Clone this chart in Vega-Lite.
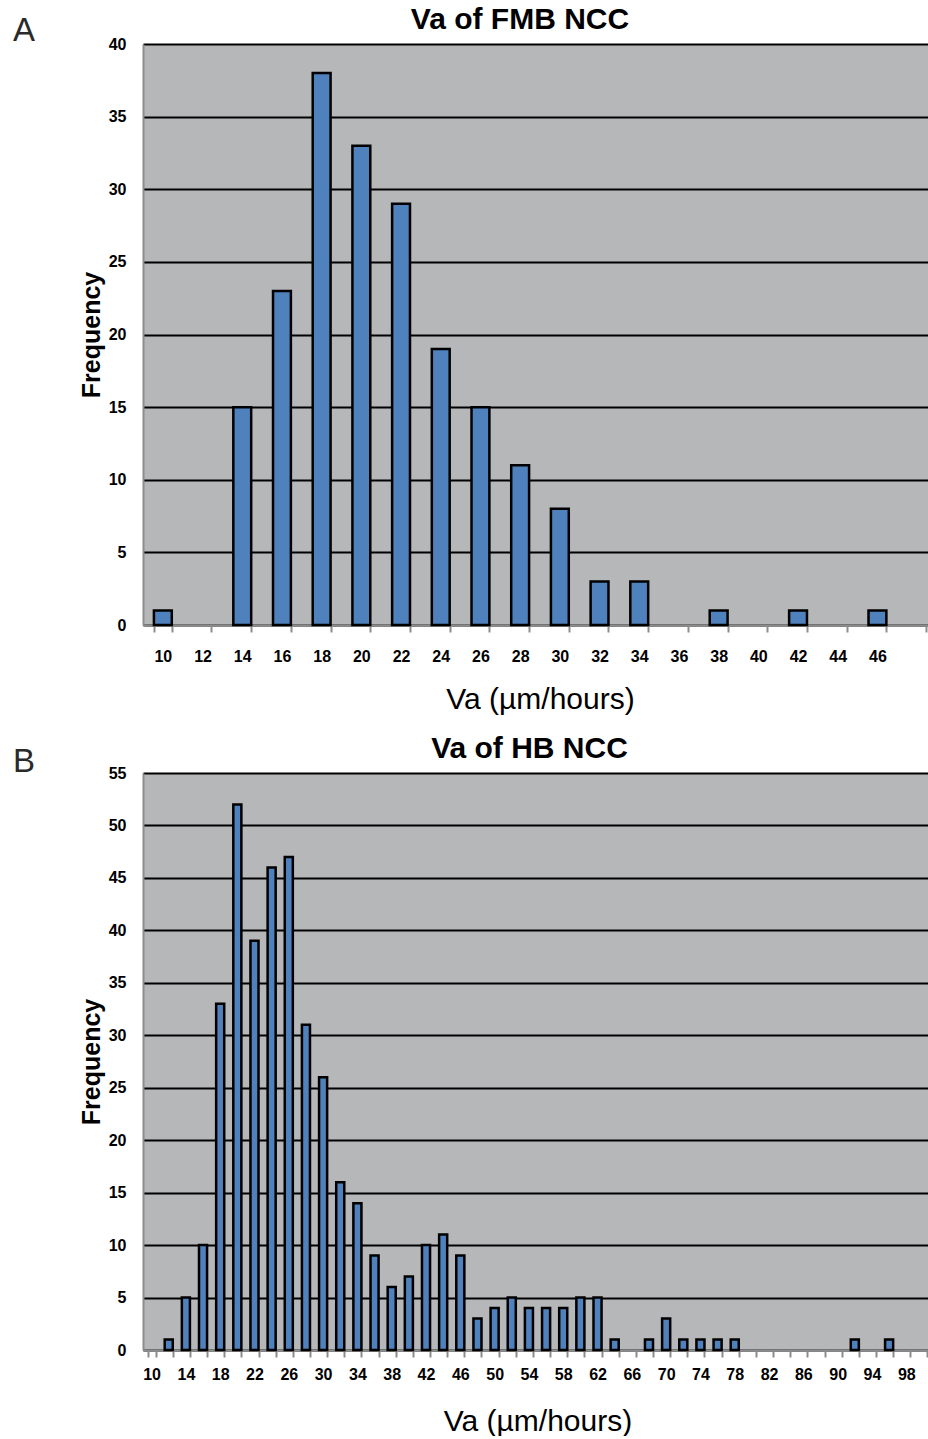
{
  "$schema": "https://vega.github.io/schema/vega-lite/v6.json",
  "background": "white",
  "padding": {"left": 13, "top": 5, "right": 0, "bottom": 0},
  "spacing": 20,
  "config": {
    "font": "Liberation Sans",
    "view": {"stroke": null, "fill": "#b6b7b9"},
    "axis": {"labelFont": "Liberation Sans", "labelFontSize": 16, "labelFontWeight": "bold", "labelColor": "black", "titleFont": "Liberation Sans", "titleColor": "black", "domainColor": "#8c8c8c", "domainWidth": 2},
    "axisX": {"tickBand": "extent", "tickColor": "#8c8c8c", "tickSize": 7, "tickWidth": 2, "labelAngle": 0, "titleFontSize": 30, "titleFontWeight": "normal", "grid": false},
    "axisY": {"grid": true, "gridColor": "black", "gridWidth": 2, "ticks": false, "tickSize": 0, "labelPadding": 17, "titleFontSize": 25, "titleFontWeight": "bold", "titlePadding": 4},
    "title": {"font": "Liberation Sans", "color": "black"}
  },
  "datasets": {
    "fmb": [
      {"va": 10, "frequency": 1}, {"va": 14, "frequency": 15}, {"va": 16, "frequency": 23}, {"va": 18, "frequency": 38},
      {"va": 20, "frequency": 33}, {"va": 22, "frequency": 29}, {"va": 24, "frequency": 19}, {"va": 26, "frequency": 15},
      {"va": 28, "frequency": 11}, {"va": 30, "frequency": 8}, {"va": 32, "frequency": 3}, {"va": 34, "frequency": 3},
      {"va": 38, "frequency": 1}, {"va": 42, "frequency": 1}, {"va": 46, "frequency": 1}
    ],
    "hb": [
      {"va": 12, "frequency": 1}, {"va": 14, "frequency": 5}, {"va": 16, "frequency": 10}, {"va": 18, "frequency": 33},
      {"va": 20, "frequency": 52}, {"va": 22, "frequency": 39}, {"va": 24, "frequency": 46}, {"va": 26, "frequency": 47},
      {"va": 28, "frequency": 31}, {"va": 30, "frequency": 26}, {"va": 32, "frequency": 16}, {"va": 34, "frequency": 14},
      {"va": 36, "frequency": 9}, {"va": 38, "frequency": 6}, {"va": 40, "frequency": 7}, {"va": 42, "frequency": 10},
      {"va": 44, "frequency": 11}, {"va": 46, "frequency": 9}, {"va": 48, "frequency": 3}, {"va": 50, "frequency": 4},
      {"va": 52, "frequency": 5}, {"va": 54, "frequency": 4}, {"va": 56, "frequency": 4}, {"va": 58, "frequency": 4},
      {"va": 60, "frequency": 5}, {"va": 62, "frequency": 5}, {"va": 64, "frequency": 1}, {"va": 68, "frequency": 1},
      {"va": 70, "frequency": 3}, {"va": 72, "frequency": 1}, {"va": 74, "frequency": 1}, {"va": 76, "frequency": 1},
      {"va": 78, "frequency": 1}, {"va": 92, "frequency": 1}, {"va": 96, "frequency": 1}
    ],
    "none": []
  },
  "vconcat": [
    {
      "spacing": 43,
      "hconcat": [
        {
          "width": 1, "height": 1,
          "view": {"fill": null, "stroke": null},
          "title": {"text": "A", "anchor": "start", "frame": "group", "fontSize": 33, "fontWeight": "normal", "color": "#2a2a2a", "offset": -30, "baseline": "alphabetic"},
          "data": {"name": "none"},
          "mark": {"type": "point", "opacity": 0},
          "encoding": {}
        },
        {
          "width": 794,
          "height": 581,
          "title": {"text": "Va of FMB NCC", "fontSize": 30, "fontWeight": "bold", "anchor": "middle", "frame": "group", "dx": -20, "offset": -23, "baseline": "alphabetic"},
          "data": {"name": "fmb"},
          "mark": {"type": "bar", "fill": "#4f81bd", "stroke": "black", "strokeWidth": 2.5},
          "encoding": {
            "x": {
              "field": "va", "type": "ordinal",
              "scale": {"domain": [10, 12, 14, 16, 18, 20, 22, 24, 26, 28, 30, 32, 34, 36, 38, 40, 42, 44, 46, 48], "paddingInner": 0.55, "paddingOuter": 0.275},
              "axis": {"title": "Va (µm/hours)", "labelPadding": 16, "titlePadding": 20, "labelExpr": "datum.value == 48 ? '' : datum.label"}
            },
            "y": {
              "field": "frequency", "type": "quantitative",
              "scale": {"domain": [0, 40], "nice": false},
              "axis": {"title": "Frequency", "values": [0, 5, 10, 15, 20, 25, 30, 35, 40]}
            }
          }
        }
      ]
    },
    {
      "spacing": 43,
      "hconcat": [
        {
          "width": 1, "height": 1,
          "view": {"fill": null, "stroke": null},
          "title": {"text": "B", "anchor": "start", "frame": "group", "fontSize": 33, "fontWeight": "normal", "color": "#2a2a2a", "offset": -32, "baseline": "alphabetic"},
          "data": {"name": "none"},
          "mark": {"type": "point", "opacity": 0},
          "encoding": {}
        },
        {
          "width": 789,
          "height": 577,
          "title": {"text": "Va of HB NCC", "fontSize": 30, "fontWeight": "bold", "anchor": "middle", "frame": "group", "dx": -8, "offset": -23, "baseline": "alphabetic"},
          "data": {"name": "hb"},
          "mark": {"type": "bar", "fill": "#4f81bd", "stroke": "black", "strokeWidth": 2.5},
          "encoding": {
            "x": {
              "field": "va", "type": "ordinal",
              "scale": {"domain": [10, 12, 14, 16, 18, 20, 22, 24, 26, 28, 30, 32, 34, 36, 38, 40, 42, 44, 46, 48, 50, 52, 54, 56, 58, 60, 62, 64, 66, 68, 70, 72, 74, 76, 78, 80, 82, 84, 86, 88, 90, 92, 94, 96, 98, 100], "paddingInner": 0.53, "paddingOuter": 0.265},
              "axis": {"title": "Va (µm/hours)", "labelPadding": 9, "titlePadding": 24, "labelExpr": "(datum.value - 10) % 4 == 0 ? datum.label : ''"}
            },
            "y": {
              "field": "frequency", "type": "quantitative",
              "scale": {"domain": [0, 55], "nice": false},
              "axis": {"title": "Frequency", "values": [0, 5, 10, 15, 20, 25, 30, 35, 40, 45, 50, 55]}
            }
          }
        }
      ]
    }
  ]
}
